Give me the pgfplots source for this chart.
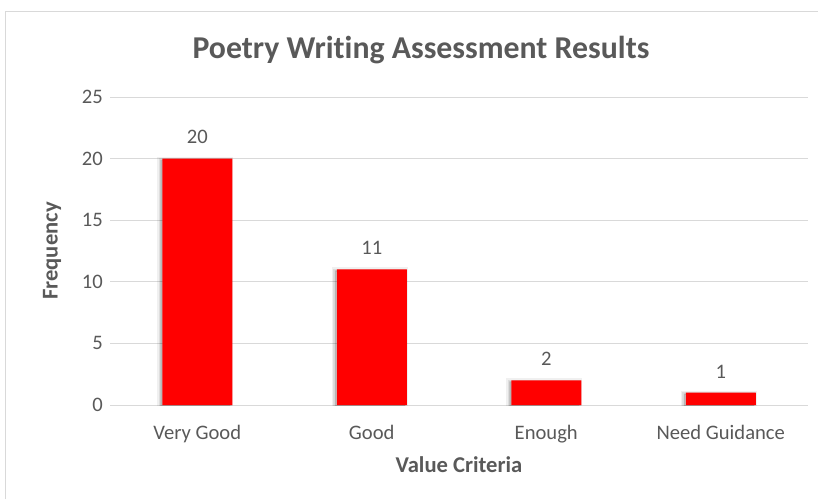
\documentclass[border=0pt]{standalone}
\usepackage{pgfplots}
\pgfplotsset{compat=1.18}
\usepackage{fontspec}
\setmainfont{Carlito}[Ligatures=NoCommon]

\definecolor{txt}{HTML}{595959}
\definecolor{gridc}{HTML}{D9D9D9}
\definecolor{barred}{HTML}{FF0000}

\pgfplotstableread{
x value
0 20
1 11
2 2
3 1
}\results

\begin{document}
\begin{tikzpicture}
% canvas 818 x 499, 1px = 1pt, origin at the top left
\path[use as bounding box] (0pt,0pt) rectangle (818pt,-499pt);
\draw[gridc, line width=1pt] (5pt,-499pt) -- (5pt,-11pt) -- (818pt,-11pt);

\node[text=txt, font=\fontsize{31.8}{36}\selectfont\bfseries] at (421pt,-50pt)
  {Poetry Writing Assessment Results};

\begin{axis}[
  at={(110pt,-405pt)}, anchor=south west,
  scale only axis,
  width=698pt, height=308pt,
  xmin=-0.5, xmax=3.5,
  ymin=0, ymax=25,
  ytick={0,5,...,25},
  xtick=data,
  xticklabels={Very Good, Good, Enough, Need Guidance},
  axis line style={draw=none},
  major tick length=0pt,
  ymajorgrids,
  grid style={gridc, line width=1pt},
  tick label style={text=txt, font=\fontsize{20.6}{24}\selectfont},
  /pgf/number format/assume math mode=true,
  xticklabel style={anchor=base, yshift=-34pt},
  yticklabel style={anchor=east, inner sep=0pt, xshift=-7pt},
  xlabel={Value Criteria},
  ylabel={Frequency},
  label style={text=txt, font=\fontsize{22.6}{26}\selectfont\bfseries},
  xlabel style={at={(axis description cs:0.5,-0.195)}, anchor=center},
  ylabel style={at={(axis description cs:-0.083,0.5)}, anchor=center},
  nodes near coords,
  every node near coord/.append style={text=txt,
    font=\fontsize{20.6}{24}\selectfont, yshift=11pt},
]
\addplot[ybar, bar width=70pt, fill=barred, draw=none,
  preaction={fill=black, opacity=0.08, draw=black, draw opacity=0.06,
    line width=6pt, transform canvas={xshift=-2pt, yshift=-1pt}},
  preaction={fill=black, opacity=0.10, draw=black, draw opacity=0.08,
    line width=3pt, transform canvas={xshift=-2pt, yshift=-1pt}}]
  table[x=x, y=value] {\results};
\end{axis}
\end{tikzpicture}
\end{document}
